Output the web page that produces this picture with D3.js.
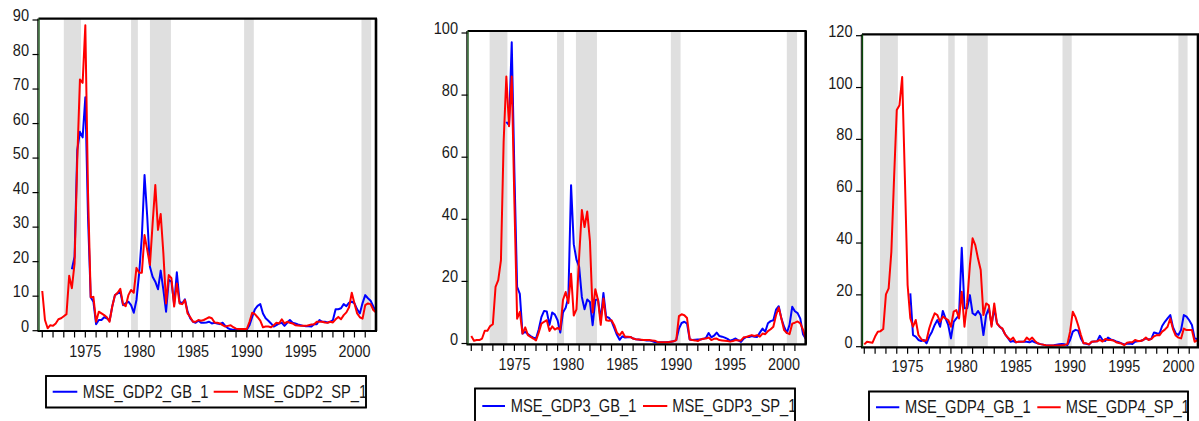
<!DOCTYPE html>
<html><head><meta charset="utf-8">
<script src="https://cdn.jsdelivr.net/npm/d3@7"></script>
<style>body{margin:0;background:#fff;} svg{display:block;font-family:"Liberation Sans",Arial,sans-serif;}</style>
</head><body><svg id="c" width="1199" height="421"></svg>
<script>
// ---------- DATA ----------
// quarterly observations, 1971Q1 .. 2002Q1
const startYear = 1971;
const nObs = 125;
const quarterDates = d3.range(nObs).map(i => startYear + i / 4);

const xTickYears = d3.range(1971, 2002);
const xLabelYears = [1975, 1980, 1985, 1990, 1995, 2000];

const yTicks1 = [0, 10, 20, 30, 40, 50, 60, 70, 80, 90];
const yTicks2 = [0, 20, 40, 60, 80, 100];
const yTicks3 = [0, 20, 40, 60, 80, 100, 120];

const names1 = ["MSE_GDP2_GB_1", "MSE_GDP2_SP_1"];
const names2 = ["MSE_GDP3_GB_1", "MSE_GDP3_SP_1"];
const names3 = ["MSE_GDP4_GB_1", "MSE_GDP4_SP_1"];

const shade1 = [[1973.0, 1974.6], [1979.25, 1979.88], [1981.0, 1982.95], [1989.75, 1990.65], [2000.65, 2001.55]];
const shade2 = [[1972.7, 1974.35], [1978.95, 1979.6], [1980.7, 1982.65], [1989.5, 1990.4], [2000.25, 2001.2]];
const shade3 = [[1972.45, 1974.1], [1978.75, 1979.35], [1980.5, 1982.4], [1989.3, 1990.15], [2000.0, 2000.85]];

const gb1 = [null,null,null,null,null,null,null,null,null,null,null,
 17.8,21.4,52.3,57.6,56,67.6,32.8,9.7,8.4,1.9,3.1,3.1,3.9,3.6,2.9,7,10.3,10.8,11.3,7.4,7.9,8.4,7.4,5.2,8.9,16.6,27.2,45.1,33,18.5,15.6,14.2,12,17.4,11.8,5.5,14.7,14.2,7.6,16.9,8.4,7.9,9.1,5.5,3.6,2.6,
 2.3,2.9,2.3,2.3,2.4,2.6,2.1,2.3,2.1,1.9,2.3,1.4,0.7,0.4,0.2,0.2,0.2,0.2,0.2,0.3,1.6,4,6.2,7.2,7.7,5,3.6,2.9,2.1,1.2,1.6,2.1,2.3,1.4,2.3,3.1,2.3,2.1,1.8,1.6,1.4,1.3,1.3,1.2,1.9,1.9,3.1,2.6,2.6,2.4,2.6,3.1,6.2,6.2,6.5,7.7,7.1,8.1,8.4,7.9,6.2,5,8,10.3,9.4,8.7,7,5.5];
const sp1 = [11.5,3.1,0.7,1.6,1.4,2.1,3.3,3.6,4.2,4.8,15.9,12.3,19.5,49.4,72.8,71.8,88.5,40,9.7,9.8,2.6,5.5,5,4.5,3.9,2.6,7,10.3,11,12.1,7.7,7.1,10.3,11.8,11,18.2,16.8,16.8,27.7,23.4,19,31,42.2,29.2,33.8,22.4,7.9,16.1,15.2,7,13.7,7.9,7.7,8.9,5,3.9,2.6,
 2.6,3.1,2.9,3.1,3.5,3.9,3.6,2.4,2.3,2.1,1.6,1.2,1.4,1.6,1.0,0.6,0.5,0.5,0.5,0.5,2.6,5.2,4.8,3.9,2.9,1.0,1.2,1.2,1.0,1.6,2.3,2.1,3.3,2.1,2.6,2.3,2.1,1.6,1.5,1.4,1.4,1.4,1.6,1.8,1.9,2.6,2.6,2.6,2.4,2.3,2.6,2.4,3.3,4,3.3,4.5,5.3,6.8,11,7.9,5,3.9,3.5,7.4,7.9,7.7,6,5.3];

const gb2 = [null,null,null,null,null,null,null,null,null,null,null,null,null,
 71.4,70.3,97,55,18.2,16,3.2,3.8,3,2.4,1.9,1.6,4.5,8.5,10.5,10.3,6,10,9.3,7.5,3.5,10,11.5,15,51,32,27,24.7,15,11,14.2,13.4,5.9,14,14.2,7.5,16.3,8.6,8.3,
 7.2,5,2.8,1.2,2.3,
 1.9,2,2.1,1.6,1.4,1.3,1.1,1.1,1.0,1.0,0.8,0.5,0.4,0.4,0.4,0.4,0.5,0.6,0.7,1.1,4.8,6.6,7,6.4,1.3,1.1,1.2,1.3,1.3,1.5,1.8,3.4,2,2.5,3.5,2.4,2.2,1.9,1.5,0.9,1.2,1.6,1.0,0.5,1.6,2.1,2.1,2.4,2.2,2.1,3.5,4.8,3.8,6.5,7.2,7.5,10.9,12,8,5.4,3.4,6,11.8,10.4,9.8,8,3,1.5];
const sp2 = [2.4,0.9,1.1,1.1,1.6,4.1,4.1,5.6,6.2,18.2,20.4,26.8,65,86,70,86,45,8,10.2,3.2,5.2,2.7,2.1,1.6,1.0,3.5,6.4,7,7.5,4,5.5,4.5,5,4.5,14,16.6,13,22.5,9,11,28,43,37.5,42.5,33,10,17.5,14,6,14.5,7.5,7.3,7.5,5.9,3.5,2.6,3.8,
 2.2,2.2,2.1,1.6,1.4,1.3,1.2,1.1,1.1,1.1,1.0,0.9,0.5,0.4,0.4,0.4,0.4,0.6,0.7,1.1,8.8,9.4,9.1,8.2,1.3,1.1,1.0,0.8,1.3,1.5,1.6,1.9,1.1,1.5,1.6,1.1,1.0,0.9,0.8,0.6,0.8,1.1,1.0,1.0,2.0,2.1,2.4,2.7,2.4,2.7,2.2,3.2,3.0,4.0,4.6,5.4,9.1,11.6,8,4.3,3.4,3.0,6.4,6.7,7.1,6.5,4.5,1.6];

const gb3 = [null,null,null,null,null,null,null,null,null,null,null,null,null,null,null,null,null,
 20.6,4.5,3.9,2.6,2.2,2.6,1.3,3.9,5.8,8.4,10.3,7.7,13.8,10.9,8.4,3.2,9.6,10.9,12.2,38.2,14.8,14.8,19.9,12.9,12.2,13.8,12.2,4.5,12.2,14.8,8.4,14.8,9,7.7,6.8,
 4.8,3.4,1.9,2.2,1.7,1.9,1.9,1.9,1.9,1.7,2.2,1.7,1.3,1.0,0.8,0.6,0.5,0.5,0.6,0.8,0.9,1.0,0.9,0.6,2.6,5.8,6.5,6.2,3.2,1.3,1.1,0.8,1.9,2.0,2.1,4.2,2.6,2.2,3.5,2.8,2.5,2.0,1.7,1.3,0.9,1.1,1.2,1.0,1.9,2.1,2.2,2.6,3.2,2.8,3.0,5.5,5.2,5.0,8.0,9.6,10.9,12.2,7.5,5.2,4.5,6.5,12.2,11.6,10.2,8.4,3.2,3.0,3.0];
const sp3 = [0.9,1.9,1.7,1.5,3.9,5.8,6,6.8,20.2,22.5,36.6,65,91.3,93.2,104.1,65,23.8,11,7.7,10.3,4.5,3,2.2,2.6,7.1,10.3,12.9,12.2,9.6,11.6,10.9,10.3,7.7,13.5,14.1,10.9,21.2,7.7,17,31.5,41.8,39.2,34,29.6,12.2,16.7,16,7.7,16.7,9,7.7,7.1,
 4.8,3.5,2.6,3.5,1.7,1.9,1.9,2.0,3.5,2.6,3.5,2.2,1.3,1.0,0.8,0.6,0.5,0.5,0.5,0.5,0.5,0.6,0.7,1.0,5.8,13.5,11.4,8.2,4.5,1.3,1.3,0.9,1.9,2.0,2.1,2.6,2.0,3,2.6,2.6,2.4,1.7,1.4,1.2,0.6,1.5,1.7,1.7,2.6,2.2,2.2,2.6,3.5,2.6,3.0,4.0,4.5,4.4,5.8,6.6,7.7,10.9,6.8,4.3,3.5,3.2,7,6.4,6.4,6.4,1.9,2.5,2.5];

// ---------- LAYOUT ----------
const panels = [
  { gb: gb1, sp: sp1, names: names1, yTicks: yTicks1, shade: shade1,
    xr: [38.5, 376], xd: [1970.65, 2002.0], yr: [330.7, 20], frameTop: 18.6, frameBot: 331,
    xLabelBase: 357, legend: { x: 46, y: 376, w: 320, h: 31.5, sw: [52.7, 77.3, 213.7, 238], tx: [82.7, 243], sy: 391.7, base: 397.8 } },
  { gb: gb2, sp: sp2, names: names2, yTicks: yTicks2, shade: shade2,
    xr: [467.5, 805.7], xd: [1970.65, 2002.0], yr: [343.5, 33], frameTop: 31, frameBot: 344.4,
    xLabelBase: 370, legend: { x: 475, y: 388.5, w: 320, h: 40, sw: [482.3, 505, 643, 667.3], tx: [510.7, 672.3], sy: 406, base: 411.5 } },
  { gb: gb3, sp: sp3, names: names3, yTicks: yTicks3, shade: shade3,
    xr: [862, 1198], xd: [1970.79, 2001.81], yr: [346.7, 35.7], frameTop: 34.4, frameBot: 347.3,
    xLabelBase: 371.7, legend: { x: 869, y: 391.5, w: 319, h: 40, sw: [876, 899.3, 1037.3, 1060.7], tx: [905, 1065.7], sy: 407.3, base: 412.7 } }
];

const svg = d3.select("#c");
svg.append("rect").attr("width", 1199).attr("height", 421).attr("fill", "#fff");
const defs = svg.append("defs");

panels.forEach((p, k) => {
  const x = d3.scaleLinear().domain(p.xd).range(p.xr);
  const y = d3.scaleLinear().domain([0, d3.max(p.yTicks)]).range(p.yr);
  const L = p.xr[0], R = p.xr[1], T = p.frameTop, B = p.frameBot;
  const g = svg.append("g");

  defs.append("clipPath").attr("id", "clip" + k)
    .append("rect").attr("x", L).attr("y", T).attr("width", R - L).attr("height", B - T);

  // shaded periods
  g.append("g").selectAll("rect").data(p.shade).join("rect")
    .attr("x", d => x(d[0])).attr("width", d => x(d[1]) - x(d[0]))
    .attr("y", T).attr("height", B - T).attr("fill", "#dfdfdf");

  // lines
  const line = d3.line().defined(d => d[1] != null)
    .x(d => x(d[0])).y(d => y(d[1]));
  const lg = g.append("g").attr("clip-path", `url(#clip${k})`);
  [[p.gb, "#0000ff"], [p.sp, "#ff0000"]].forEach(([vals, col]) => {
    lg.append("path")
      .datum(vals.map((v, i) => [quarterDates[i], v]))
      .attr("d", line).attr("fill", "none").attr("stroke", col)
      .attr("stroke-width", 2).attr("stroke-linejoin", "round");
  });

  // frame
  g.append("line").attr("x1", L).attr("x2", R + 1).attr("y1", T).attr("y2", T).attr("stroke", "#000").attr("stroke-width", 2.2);
  g.append("line").attr("x1", R).attr("x2", R).attr("y1", T).attr("y2", B).attr("stroke", "#000").attr("stroke-width", 2.6);
  g.append("line").attr("x1", L - 1).attr("x2", R + 1).attr("y1", B).attr("y2", B).attr("stroke", "#000").attr("stroke-width", 2.2);
  g.append("line").attr("x1", L - 0.7).attr("x2", L - 0.7).attr("y1", T).attr("y2", B).attr("stroke", "#000").attr("stroke-width", 1);
  g.append("line").attr("x1", L + 0.5).attr("x2", L + 0.5).attr("y1", T).attr("y2", B).attr("stroke", "#0a4a0a").attr("stroke-width", 1.3);

  // y axis ticks + labels
  const ya = g.append("g");
  ya.selectAll("line").data(p.yTicks).join("line")
    .attr("x1", L - 6).attr("x2", L).attr("y1", d => y(d)).attr("y2", d => y(d))
    .attr("stroke", "#000").attr("stroke-width", 1.2);
  ya.selectAll("text").data(p.yTicks).join("text")
    .attr("transform", d => `translate(${L - 9.5},${y(d) + 1}) scale(1,1.16)`)
    .attr("text-anchor", "end").attr("font-size", 14.6).attr("fill", "#1a1a1a")
    .text(d => d);

  // x axis ticks + labels
  const xa = g.append("g");
  xa.selectAll("line").data(xTickYears).join("line")
    .attr("x1", d => x(d)).attr("x2", d => x(d)).attr("y1", B).attr("y2", B + 6.5)
    .attr("stroke", "#000").attr("stroke-width", 1.2);
  xa.selectAll("text").data(xLabelYears).join("text")
    .attr("transform", d => `translate(${x(d)},${p.xLabelBase}) scale(1,1.16)`)
    .attr("text-anchor", "middle").attr("font-size", 14.4).attr("fill", "#1a1a1a")
    .text(d => d);

  // legend
  const lgd = p.legend;
  defs.append("clipPath").attr("id", "lclip" + k)
    .append("rect").attr("x", lgd.x).attr("y", lgd.y).attr("width", lgd.w).attr("height", lgd.h);
  const leg = g.append("g");
  leg.append("rect").attr("x", lgd.x).attr("y", lgd.y).attr("width", lgd.w).attr("height", lgd.h)
    .attr("fill", "#fff").attr("stroke", "#000").attr("stroke-width", 1.6);
  const lc = leg.append("g").attr("clip-path", `url(#lclip${k})`);
  ["#0000ff", "#ff0000"].forEach((col, j) => {
    lc.append("line").attr("x1", lgd.sw[2 * j]).attr("x2", lgd.sw[2 * j + 1])
      .attr("y1", lgd.sy).attr("y2", lgd.sy).attr("stroke", col).attr("stroke-width", 2);
    lc.append("text").attr("transform", `translate(${lgd.tx[j]},${lgd.base}) scale(1,1.2)`)
      .attr("font-size", 14.7).attr("fill", "#1a1a1a").text(p.names[j]);
  });
  leg.append("rect").attr("x", lgd.x).attr("y", lgd.y).attr("width", lgd.w).attr("height", lgd.h)
    .attr("fill", "none").attr("stroke", "#000").attr("stroke-width", 1.6);
});
</script>
</body></html>
